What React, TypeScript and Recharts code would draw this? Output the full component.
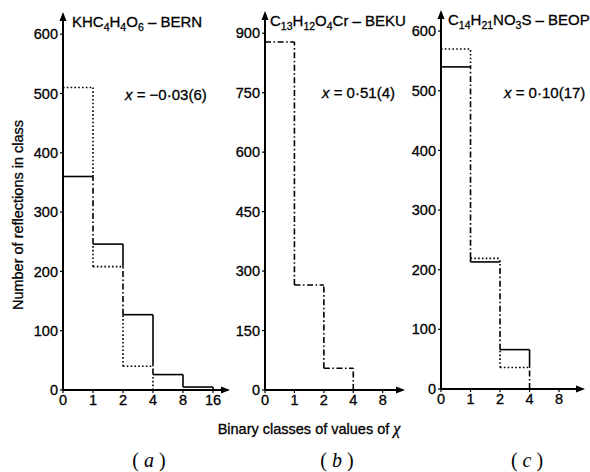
import { LineChart, Line, XAxis, YAxis, ReferenceDot } from 'recharts';

const FONT = '"Liberation Sans", Arial, sans-serif';
const INK = { fill: '#000', stroke: '#000', strokeWidth: 0.3 };

// (a) KHC4H4O6 – BERN
const classesA = ['0', '1', '2', '4', '8', '16'];
const solidA = [360, 246, 127, 26, 5];
const dottedA = [510, 208, 40, 0, 0];
const ticksA = [0, 100, 200, 300, 400, 500, 600];

// (b) C13H12O4Cr – BEKU
const classesB = ['0', '1', '2', '4', '8'];
const solidB = [878, 265, 55];
const dottedB = [878, 265, 55];
const ticksB = [0, 150, 300, 450, 600, 750, 900];

// (c) C14H21NO3S – BEOP
const classesC = ['0', '1', '2', '4', '8'];
const solidC = [540, 213, 66];
const dottedC = [570, 219, 36];
const ticksC = [0, 100, 200, 300, 400, 500, 600];

type Pt = { x: number; y: number };
type Seg = Pt[];

const DOTTED = '1.6 2.2';
const DASHDOT = '6 2.5 1.6 2.5';

// split the two step outlines into solid-only, dotted-only and shared (dash-dot) pieces
function buildSegments(solid: number[], dotted: number[]) {
  const n = Math.max(solid.length, dotted.length);
  const s = (i: number) => (i >= 0 && i < solid.length ? solid[i] : 0);
  const d = (i: number) => (i >= 0 && i < dotted.length ? dotted[i] : 0);
  const out = { solid: [] as Seg[], dotted: [] as Seg[], both: [] as Seg[] };
  const vert = (x: number, a: number, b: number): Seg => [{ x, y: a }, { x, y: b }];

  for (let i = 0; i < n; i++) {
    const h = (v: number): Seg => [{ x: i, y: v }, { x: i + 1, y: v }];
    if (s(i) === d(i)) {
      if (s(i) > 0) out.both.push(h(s(i)));
    } else {
      if (s(i) > 0) out.solid.push(h(s(i)));
      if (d(i) > 0) out.dotted.push(h(d(i)));
    }
  }
  for (let i = 1; i <= n; i++) {
    const a0 = Math.min(s(i - 1), s(i));
    const a1 = Math.max(s(i - 1), s(i));
    const b0 = Math.min(d(i - 1), d(i));
    const b1 = Math.max(d(i - 1), d(i));
    const lo = Math.max(a0, b0);
    const hi = Math.min(a1, b1);
    if (hi > lo) {
      out.both.push(vert(i, lo, hi));
      if (lo > a0) out.solid.push(vert(i, a0, lo));
      if (a1 > hi) out.solid.push(vert(i, hi, a1));
      if (lo > b0) out.dotted.push(vert(i, b0, lo));
      if (b1 > hi) out.dotted.push(vert(i, hi, b1));
    } else {
      if (a1 > a0) out.solid.push(vert(i, a0, a1));
      if (b1 > b0) out.dotted.push(vert(i, b0, b1));
    }
  }
  return out;
}

interface PanelProps {
  classes: string[];
  solid: number[];
  dotted: number[];
  ticks: number[];
  yMax: number;
  xMax: number;
  left: number;
  right: number;
  top: number;
  bottom: number;
}

function Panel({ classes, solid, dotted, ticks, yMax, xMax, left, right, top, bottom }: PanelProps) {
  const segs = buildSegments(solid, dotted);
  const lines: { seg: Seg; dash?: string }[] = [
    ...segs.solid.map((seg) => ({ seg })),
    ...segs.dotted.map((seg) => ({ seg, dash: DOTTED })),
    ...segs.both.map((seg) => ({ seg, dash: DASHDOT })),
  ];
  const tickStyle = { fontFamily: FONT, fontSize: 14.5, ...INK };

  return (
    <div style={{ position: 'absolute', left: 0, top: 0 }}>
      <LineChart
        width={590}
        height={472}
        margin={{ top, left: left - 40, right: 590 - right, bottom: 472 - bottom - 30 }}
      >
        <XAxis
          type="number"
          dataKey="x"
          domain={[0, xMax]}
          allowDataOverflow
          ticks={classes.map((_, i) => i)}
          tickFormatter={(v) => classes[v] ?? ''}
          interval={0}
          height={30}
          tick={tickStyle}
          tickSize={3}
          tickMargin={2}
          axisLine={{ stroke: '#000', strokeWidth: 2 }}
          tickLine={{ stroke: '#000', strokeWidth: 1.2 }}
        />
        <YAxis
          type="number"
          domain={[0, yMax]}
          allowDataOverflow
          ticks={ticks}
          interval={0}
          width={40}
          tick={tickStyle}
          tickSize={3}
          tickMargin={2}
          axisLine={{ stroke: '#000', strokeWidth: 2 }}
          tickLine={{ stroke: '#000', strokeWidth: 1.2 }}
        />
        {lines.map((l, i) => (
          <Line
            key={i}
            data={l.seg}
            dataKey="y"
            stroke="#000"
            strokeWidth={1.6}
            strokeDasharray={l.dash}
            dot={false}
            activeDot={false}
            isAnimationActive={false}
          />
        ))}
        <ReferenceDot
          x={xMax}
          y={0}
          ifOverflow="visible"
          shape={(p: any) => <path d={`M${p.cx + 2},${p.cy} l-9,-3.5 l0,7 z`} fill="#000" />}
        />
        <ReferenceDot
          x={0}
          y={yMax}
          ifOverflow="visible"
          shape={(p: any) => <path d={`M${p.cx},${p.cy - 2} l-3.5,9 l7,0 z`} fill="#000" />}
        />
      </LineChart>
    </div>
  );
}

// digits straight after a letter become subscripts
function Formula({ x, y, text }: { x: number; y: number; text: string }) {
  const parts: { t: string; sub: boolean }[] = [];
  for (let i = 0; i < text.length; i++) {
    const c = text[i];
    const sub = /[0-9]/.test(c) && i > 0 && /[A-Za-z0-9]/.test(text[i - 1]);
    const last = parts[parts.length - 1];
    if (last && last.sub === sub) last.t += c;
    else parts.push({ t: c, sub });
  }
  let shifted = false;
  return (
    <text x={x} y={y} fontFamily={FONT} fontSize={15} {...INK}>
      {parts.map((p, i) => {
        let dy = 0;
        if (p.sub && !shifted) { dy = 4; shifted = true; }
        else if (!p.sub && shifted) { dy = -4; shifted = false; }
        return (
          <tspan key={i} dy={dy} fontSize={p.sub ? 10.5 : 15}>
            {p.t}
          </tspan>
        );
      })}
    </text>
  );
}

function Estimate({ x, y, value }: { x: number; y: number; value: string }) {
  return (
    <text x={x} y={y} fontFamily={FONT} fontSize={15} {...INK}>
      <tspan fontStyle="italic">x</tspan>
      <tspan> = {value}</tspan>
    </text>
  );
}

function PanelTag({ cx, letter }: { cx: number; letter: string }) {
  return (
    <text x={cx} y={467} textAnchor="middle" fontFamily='"Liberation Serif", serif' fontSize={20} fill="#000">
      ( <tspan fontStyle="italic">{letter}</tspan> )
    </text>
  );
}

export default function App() {
  return (
    <div style={{ position: 'absolute', left: 0, top: 0, width: 590, height: 472, background: '#fff' }}>
      <Panel classes={classesA} solid={solidA} dotted={dottedA} ticks={ticksA}
        yMax={634} xMax={5.5} left={63} right={228} top={14} bottom={390} />
      <Panel classes={classesB} solid={solidB} dotted={dottedB} ticks={ticksB}
        yMax={951} xMax={4.69} left={265} right={403} top={13} bottom={390} />
      <Panel classes={classesC} solid={solidC} dotted={dottedC} ticks={ticksC}
        yMax={632} xMax={4.81} left={441} right={583} top={12} bottom={389} />
      <svg width={590} height={472} style={{ position: 'absolute', left: 0, top: 0 }}>
        <Formula x={72} y={27} text="KHC4H4O6 – BERN" />
        <Formula x={270} y={26} text="C13H12O4Cr – BEKU" />
        <Formula x={448} y={25} text="C14H21NO3S – BEOP" />
        <Estimate x={125} y={100} value="−0·03(6)" />
        <Estimate x={322} y={98} value="0·51(4)" />
        <Estimate x={504} y={98} value="0·10(17)" />
        <text x={23} y={215} transform="rotate(-90 23 215)" textAnchor="middle"
          fontFamily={FONT} fontSize={14.5} {...INK}>
          Number of reflections in class
        </text>
        <text x={309} y={434} textAnchor="middle" fontFamily={FONT} fontSize={14.5} {...INK}>
          Binary classes of values of <tspan fontFamily='"Liberation Serif", serif' fontStyle="italic" fontSize={16}>χ</tspan>
        </text>
        <PanelTag cx={149} letter="a" />
        <PanelTag cx={337} letter="b" />
        <PanelTag cx={527} letter="c" />
      </svg>
    </div>
  );
}
